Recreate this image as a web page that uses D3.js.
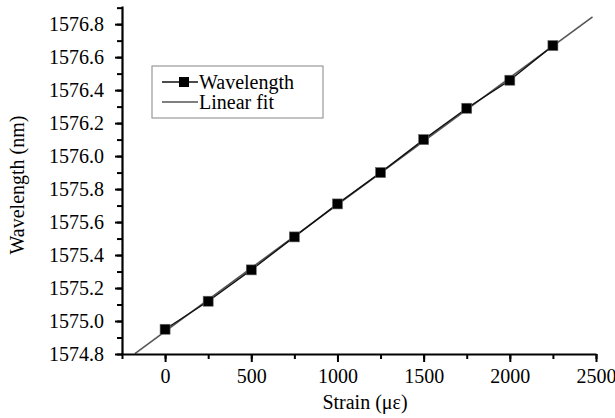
<!DOCTYPE html>
<html>
<head>
<meta charset="utf-8">
<script src="https://cdn.jsdelivr.net/npm/d3@7"></script>
<style>
  html, body { margin: 0; padding: 0; background: #fff; }
  svg { display: block; font-family: "Liberation Serif", "Times New Roman", serif; }
</style>
</head>
<body>
<svg id="chart" width="615" height="418"></svg>
<script>
// ── Data ───────────────────────────────────────────────────────────────────

const strain     = [0, 250, 500, 750, 1000, 1250, 1500, 1750, 2000, 2250];
const wavelength = [1574.95, 1575.12, 1575.31, 1575.51, 1575.71, 1575.90, 1576.10, 1576.29, 1576.46, 1576.67];
const fitRange   = [-175, 2480];
const xTicks     = [0, 500, 1000, 1500, 2000, 2500];
const yTicks     = [1574.8, 1575.0, 1575.2, 1575.4, 1575.6, 1575.8, 1576.0, 1576.2, 1576.4, 1576.6, 1576.8];
const legendLabels = ['Wavelength', 'Linear fit'];

// ── Layout ─────────────────────────────────────────────────────────────────

const svg = d3.select('#chart');
const plot = { left: 122, right: 596, top: 6, bottom: 354 };

const x = d3.scaleLinear().domain([-250, 2500]).range([plot.left, plot.right]);
const y = d3.scaleLinear().domain([1574.8, 1576.91]).range([plot.bottom, plot.top]);

// ── Linear fit (least squares) ─────────────────────────────────────────────

const mx = d3.mean(strain), my = d3.mean(wavelength);
const slope = d3.sum(strain, (s, i) => (s - mx) * (wavelength[i] - my)) /
              d3.sum(strain, s => (s - mx) ** 2);
const intercept = my - slope * mx;
const fitPts = fitRange.map(s => [s, intercept + slope * s]);

svg.append('line')
  .attr('x1', x(fitPts[0][0])).attr('y1', y(fitPts[0][1]))
  .attr('x2', x(fitPts[1][0])).attr('y2', y(fitPts[1][1]))
  .attr('stroke', '#555').attr('stroke-width', 1.6);

// ── Data line + markers ────────────────────────────────────────────────────

const pts = strain.map((s, i) => [s, wavelength[i]]);

svg.append('path')
  .datum(pts)
  .attr('fill', 'none')
  .attr('stroke', '#111')
  .attr('stroke-width', 1.4)
  .attr('d', d3.line().x(d => x(d[0])).y(d => y(d[1])));

svg.append('g').selectAll('rect')
  .data(pts)
  .join('rect')
  .attr('x', d => x(d[0]) - 5)
  .attr('y', d => y(d[1]) - 5)
  .attr('width', 10).attr('height', 10)
  .attr('fill', '#000')
  .attr('stroke', '#666').attr('stroke-width', 0.6);

// ── Axes ───────────────────────────────────────────────────────────────────

function styleAxis(g) {
  g.select('.domain').attr('stroke', '#000').attr('stroke-width', 2.2);
  g.selectAll('.tick line').attr('stroke', '#000').attr('stroke-width', 2);
  g.selectAll('.tick text').attr('fill', '#000').attr('font-size', 20)
    .attr('font-family', '"Liberation Serif", "Times New Roman", serif');
}

// minor ticks
svg.append('g')
  .attr('transform', `translate(0,${plot.bottom})`)
  .call(d3.axisBottom(x).tickValues(d3.range(-250, 2501, 250)).tickSize(5).tickFormat(''))
  .call(g => { g.select('.domain').remove(); g.selectAll('.tick line').attr('stroke', '#000').attr('stroke-width', 2); });

svg.append('g')
  .attr('transform', `translate(${plot.left},0)`)
  .call(d3.axisLeft(y).tickValues(d3.range(1574.8, 1576.95, 0.1)).tickSize(5).tickFormat(''))
  .call(g => { g.select('.domain').remove(); g.selectAll('.tick line').attr('stroke', '#000').attr('stroke-width', 2); });

// major ticks
svg.append('g')
  .attr('transform', `translate(0,${plot.bottom})`)
  .call(d3.axisBottom(x).tickValues(xTicks).tickSize(8).tickSizeOuter(0).tickPadding(7).tickFormat(d3.format('d')))
  .call(styleAxis);

svg.append('g')
  .attr('transform', `translate(${plot.left},0)`)
  .call(d3.axisLeft(y).tickValues(yTicks).tickSize(7).tickSizeOuter(0).tickPadding(11).tickFormat(d3.format('.1f')))
  .call(styleAxis);

// ── Axis titles ────────────────────────────────────────────────────────────

svg.append('text')
  .attr('x', 365).attr('y', 409)
  .attr('text-anchor', 'middle')
  .attr('font-size', 20)
  .text('Strain (με)');

svg.append('text')
  .attr('transform', 'translate(24,185) rotate(-90)')
  .attr('text-anchor', 'middle')
  .attr('font-size', 20)
  .text('Wavelength (nm)');

// ── Legend ─────────────────────────────────────────────────────────────────

const legend = svg.append('g');
legend.append('rect')
  .attr('x', 152).attr('y', 66).attr('width', 171).attr('height', 52)
  .attr('fill', '#fff').attr('stroke', '#999').attr('stroke-width', 1.2);

legendLabels.forEach((label, i) => {
  const ly = 82 + i * 20;
  legend.append('line')
    .attr('x1', 162).attr('x2', 198).attr('y1', ly).attr('y2', ly)
    .attr('stroke', i === 0 ? '#111' : '#555').attr('stroke-width', 1.6);
  if (i === 0) {
    legend.append('rect')
      .attr('x', 179).attr('y', ly - 5).attr('width', 10).attr('height', 10)
      .attr('fill', '#000');
  }
  legend.append('text')
    .attr('x', 199).attr('y', ly + 7)
    .attr('font-size', 20)
    .text(label);
});
</script>
</body>
</html>
